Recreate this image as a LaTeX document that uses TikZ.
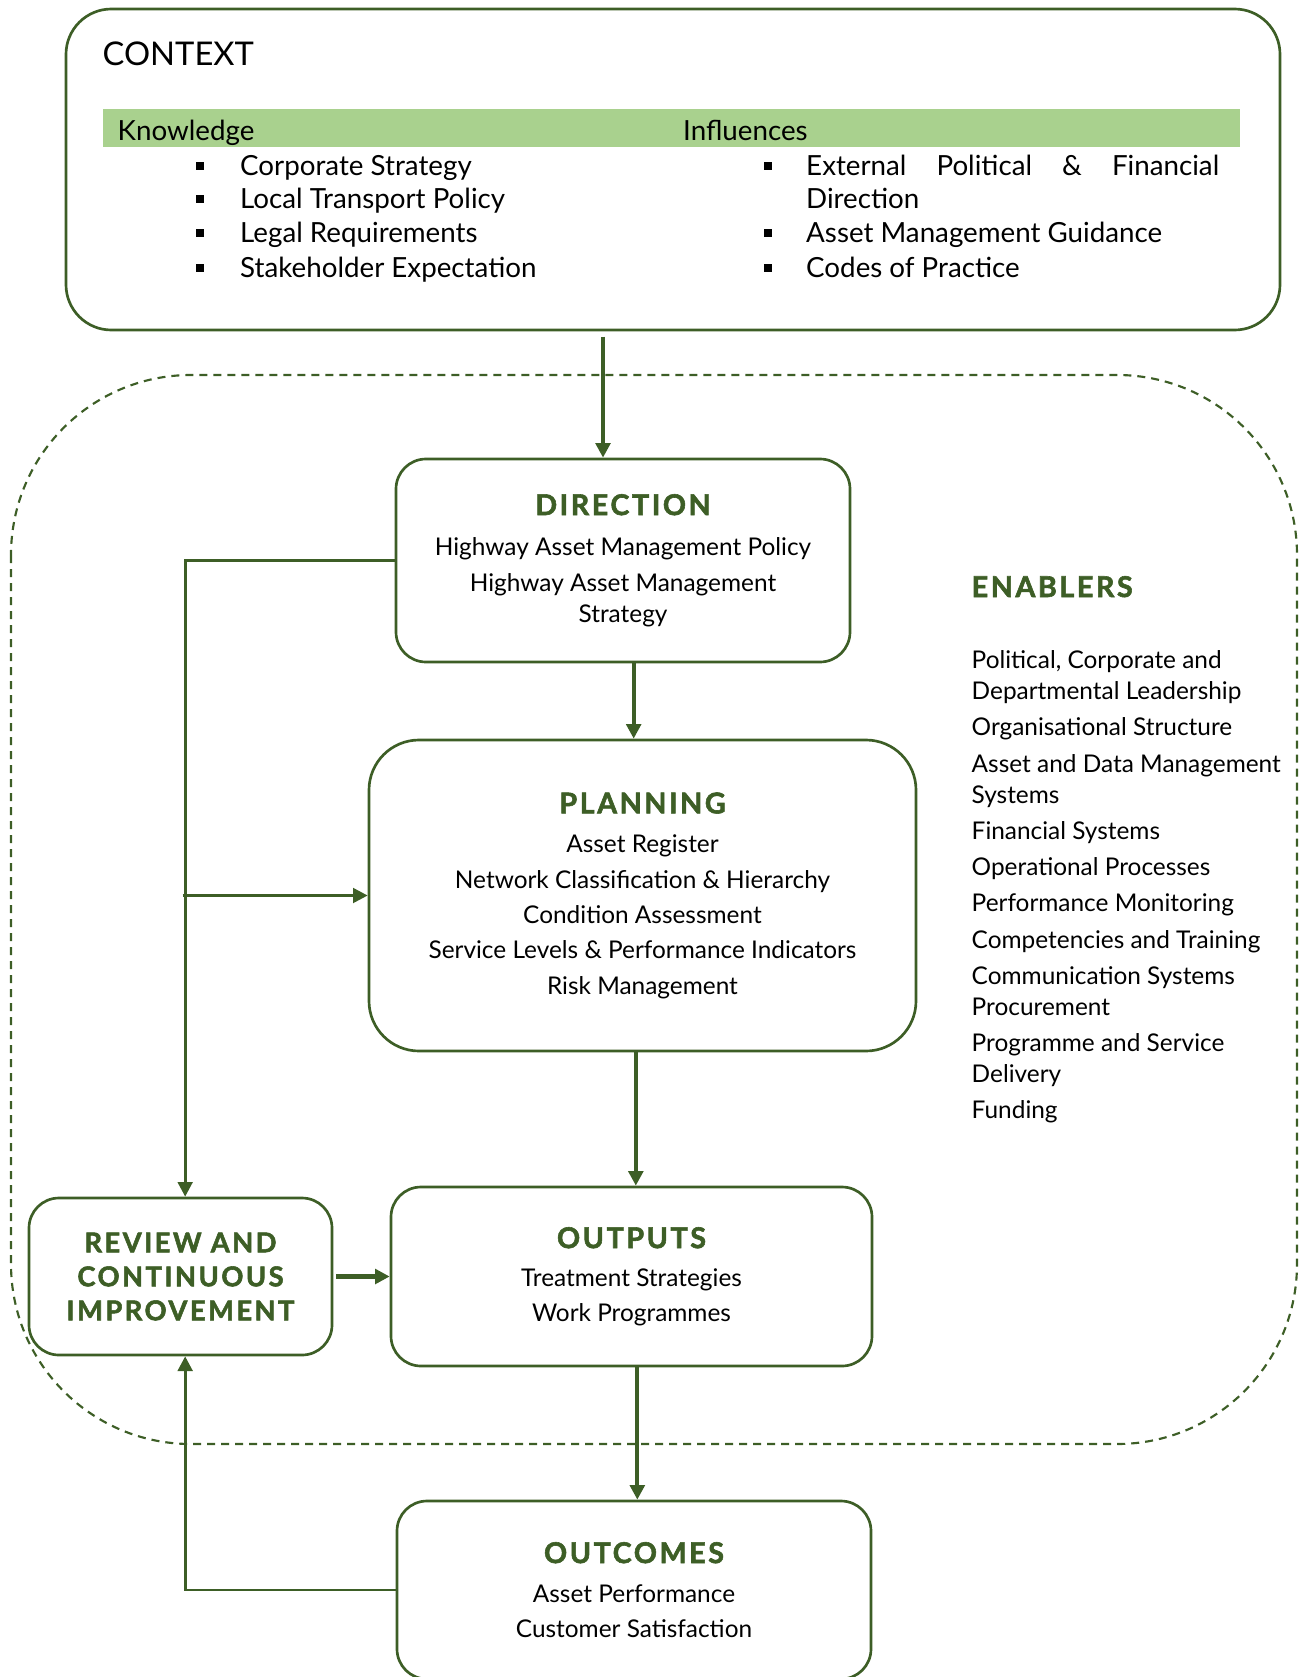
\documentclass[tikz,border=0pt]{standalone}
\usepackage{fontspec}
\setmainfont{Lato}
\newfontfamily\headfont[LetterSpace=9, BoldFeatures={FakeBold=2}]{Lato}
\usetikzlibrary{arrows.meta}
\definecolor{hamgreen}{HTML}{3D5E26}
\definecolor{barfill}{HTML}{A9D18E}
\newcommand\bodysize{\fontsize{18.3}{26.5}\selectfont}
\newcommand\ctxsize{\fontsize{20.8}{26}\selectfont}
\newcommand\headsize{\headfont\fontsize{21.5}{26}\selectfont\bfseries\color{hamgreen}}

\begin{document}
\begin{tikzpicture}[x=0.75pt,y=-0.75pt,
    stage/.style={draw=hamgreen, line width=2pt, rounded corners=22.5pt,
      align=center, font=\bodysize, inner sep=0pt},
    flow/.style={draw=hamgreen, line width=2.2pt,
      -{Triangle[length=11pt,width=11pt]}},
    mainflow/.style={flow, line width=2.8pt},
    tick/.style={fill=black, minimum size=5.5pt, inner sep=0pt},
    ctxitem/.style={anchor=base west, font=\ctxsize},
    enabler/.style={anchor=base west, font=\bodysize}]
  \useasboundingbox (0,0) rectangle (1306,1677);
  \clip (0,0) rectangle (1306,1677);

  % context box with its two lists
  \node[stage, rounded corners=34pt, minimum width=910.5pt,
    minimum height=240.75pt] (context) at (673,169.5) {};
  \fill[barfill] (103,109) rectangle (1240,147);
  \node[anchor=base west, font=\fontsize{24.5}{26}\selectfont] (ctxtitle) at (98,65) {CONTEXT};
  \node[ctxitem] (knowledge) at (113,140) {Knowledge};
  \node[ctxitem] (influences) at (678.5,140) {Influences};
  \node[tick] (kb1) at (200,166) {};
  \node[tick] (kb2) at (200,199) {};
  \node[tick] (kb3) at (200,233) {};
  \node[tick] (kb4) at (200,268) {};
  \node[ctxitem] (k1) at (235.5,175) {Corporate Strategy};
  \node[ctxitem] (k2) at (235.5,208) {Local Transport Policy};
  \node[ctxitem] (k3) at (235.5,242) {Legal Requirements};
  \node[ctxitem] (k4) at (235.5,277) {Stakeholder Expectation};
  \node[tick] (ib1) at (768,166) {};
  \node[tick] (ib2) at (768,233) {};
  \node[tick] (ib3) at (768,268) {};
  \node[ctxitem] (i1) at (801.5,175) {\makebox[309.75pt][l]{External\hfill Political\hfill\&\hfill Financial}};
  \node[ctxitem] (i1b) at (801.5,208) {Direction};
  \node[ctxitem] (i2) at (801.5,242) {Asset Management Guidance};
  \node[ctxitem] (i3) at (801.5,277) {Codes of Practice};

  % enablers region
  \draw[hamgreen, line width=1.6pt, dash pattern=on 6pt off 4.5pt,
    rounded corners=135pt] (11,375) rectangle (1297,1444);

  % stages
  \node[stage, minimum width=340.5pt, minimum height=152.25pt] (direction) at (623,560.5)
    {{\headsize DIRECTION}\\[4pt]
     Highway Asset Management Policy\\
     Highway Asset Management\\[-3pt]
     Strategy};
  \node[stage, rounded corners=37.5pt, minimum width=410.25pt, minimum height=233.25pt]
    (planning) at (642.5,895.5)
    {{\headsize PLANNING}\\[3pt]
     Asset Register\\
     Network Classification \& Hierarchy\\
     Condition Assessment\\
     Service Levels \& Performance Indicators\\
     Risk Management};
  \node[stage, minimum width=360.75pt, minimum height=134.25pt] (outputs) at (631.5,1276.5)
    {{\headsize OUTPUTS}\\[2pt]
     Treatment Strategies\\
     Work Programmes};
  \node[stage, minimum width=227.25pt, minimum height=117.75pt,
    font=\headsize\fontsize{20.5}{25.5}\selectfont]
    (review) at (180.5,1276.5)
    {REVIEW AND\\CONTINUOUS\\IMPROVEMENT};
  \node[stage, minimum width=355.5pt, minimum height=133.5pt] (outcomes) at (634,1590)
    {{\headsize OUTCOMES}\\[3pt]
     Asset Performance\\
     Customer Satisfaction};

  % enablers list
  \node[anchor=base west, font=\headsize] (enablers) at (967,597) {ENABLERS};
  \node[enabler] (en1) at (967,668) {Political, Corporate and};
  \node[enabler] (en2) at (967,699) {Departmental Leadership};
  \node[enabler] (en3) at (967,735) {Organisational Structure};
  \node[enabler] (en4) at (967,772) {Asset and Data Management};
  \node[enabler] (en5) at (967,803) {Systems};
  \node[enabler] (en6) at (967,839) {Financial Systems};
  \node[enabler] (en7) at (967,875) {Operational Processes};
  \node[enabler] (en8) at (967,911) {Performance Monitoring};
  \node[enabler] (en9) at (967,948) {Competencies and Training};
  \node[enabler] (en10) at (967,984) {Communication Systems};
  \node[enabler] (en11) at (967,1015) {Procurement};
  \node[enabler] (en12) at (967,1051) {Programme and Service};
  \node[enabler] (en13) at (967,1082) {Delivery};
  \node[enabler] (en14) at (967,1118) {Funding};

  % connectors
  \coordinate (dirin) at ([xshift=-15pt]direction.north);
  \coordinate (dirout) at ([xshift=8pt]direction.south);
  \coordinate (planout) at ([xshift=-5pt]planning.south);
  \coordinate (outcin) at ([xshift=2.5pt]outcomes.north);
  \coordinate (revin) at ([xshift=3.5pt]review.north);
  \coordinate (revout) at ([xshift=3.5pt]review.south);
  \draw[mainflow] ([yshift=-4pt]context.south -| dirin) -- (dirin);
  \draw[mainflow] (dirout) -- (dirout |- planning.north);
  \draw[mainflow] (planout) -- (planout |- outputs.north);
  \draw[mainflow] (outputs.south -| outcin) -- (outcin);
  \draw[flow, line width=3.8pt] ([xshift=2pt]review.east) -- (outputs.west);
  \draw[flow] (direction.west) -| (revin);
  \draw[flow] ([xshift=-2pt]revin |- planning.west) -- (planning.west);
  \draw[flow] (outcomes.west) -| (revout);
\end{tikzpicture}
\end{document}
